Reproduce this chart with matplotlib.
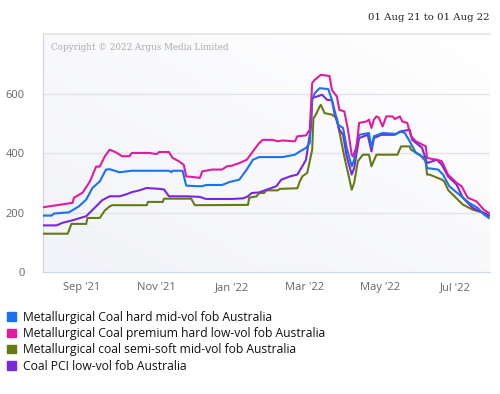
"""
Australian coking coal and PCI prices, Aug 2021 - Aug 2022.
"""

import matplotlib
matplotlib.use('Agg')
import matplotlib.pyplot as plt
import numpy as np
import pandas as pd
from matplotlib.patches import Patch

# --- data (US$/t) ---
hard_mid_dates = ['2021-08-01', '2021-08-08', '2021-08-10', '2021-08-22', '2021-08-30',
                  '2021-09-05', '2021-09-10', '2021-09-16', '2021-09-21', '2021-09-24',
                  '2021-10-02', '2021-10-12', '2021-11-11', '2021-11-13', '2021-11-14',
                  '2021-11-22', '2021-11-25', '2021-12-03', '2021-12-08', '2021-12-11',
                  '2021-12-24', '2021-12-30', '2022-01-07', '2022-01-13', '2022-01-18',
                  '2022-01-23', '2022-02-11', '2022-02-21', '2022-02-25', '2022-03-02',
                  '2022-03-05', '2022-03-07', '2022-03-09', '2022-03-13', '2022-03-20',
                  '2022-03-23', '2022-03-25', '2022-03-28', '2022-04-01', '2022-04-04',
                  '2022-04-08', '2022-04-10', '2022-04-13', '2022-04-14', '2022-04-22',
                  '2022-04-24', '2022-04-26', '2022-04-29', '2022-05-03', '2022-05-14',
                  '2022-05-18', '2022-05-21', '2022-05-25', '2022-05-30', '2022-06-04',
                  '2022-06-06', '2022-06-08', '2022-06-17', '2022-06-21', '2022-06-26',
                  '2022-07-04', '2022-07-12', '2022-07-19', '2022-07-24', '2022-07-28']
hard_mid = [190, 190, 197, 201, 221, 244, 283, 305, 345, 346, 336, 341, 341, 336, 341,
            341, 291, 289, 289, 293, 293, 303, 311, 345, 378, 387, 387, 395, 406, 418,
            434, 580, 602, 619, 616, 580, 546, 496, 485, 418, 356, 378, 451, 462, 468,
            418, 457, 462, 468, 465, 473, 468, 440, 401, 389, 384, 350, 345, 328, 289,
            261, 233, 216, 194, 182]

premium_dates = ['2021-08-01', '2021-08-25', '2021-08-26', '2021-09-02', '2021-09-08',
                 '2021-09-13', '2021-09-16', '2021-09-20', '2021-09-24', '2021-09-29',
                 '2021-10-04', '2021-10-10', '2021-10-12', '2021-10-26', '2021-11-01',
                 '2021-11-03', '2021-11-11', '2021-11-14', '2021-11-19', '2021-11-23',
                 '2021-11-25', '2021-11-30', '2021-12-06', '2021-12-08', '2021-12-16',
                 '2021-12-24', '2021-12-28', '2022-01-01', '2022-01-07', '2022-01-13',
                 '2022-01-18', '2022-01-23', '2022-01-26', '2022-02-03', '2022-02-07',
                 '2022-02-11', '2022-02-21', '2022-02-23', '2022-03-02', '2022-03-05',
                 '2022-03-07', '2022-03-09', '2022-03-14', '2022-03-21', '2022-03-23',
                 '2022-03-27', '2022-03-29', '2022-04-02', '2022-04-05', '2022-04-08',
                 '2022-04-09', '2022-04-12', '2022-04-14', '2022-04-20', '2022-04-22',
                 '2022-04-24', '2022-04-26', '2022-04-28', '2022-04-30', '2022-05-03',
                 '2022-05-06', '2022-05-11', '2022-05-13', '2022-05-17', '2022-05-19',
                 '2022-05-23', '2022-05-26', '2022-05-30', '2022-06-07', '2022-06-08',
                 '2022-06-16', '2022-06-20', '2022-06-25', '2022-07-02', '2022-07-06',
                 '2022-07-11', '2022-07-18', '2022-07-24', '2022-07-28']
premium = [218, 233, 250, 267, 305, 355, 355, 389, 412, 403, 390, 390, 401, 401, 397,
           404, 404, 384, 373, 361, 322, 320, 317, 339, 345, 345, 356, 358, 367, 378,
           406, 434, 445, 445, 440, 443, 440, 457, 460, 479, 636, 647, 664, 660, 613,
           591, 546, 541, 479, 395, 389, 423, 502, 507, 513, 485, 513, 524, 520, 490,
           524, 524, 515, 524, 507, 502, 457, 440, 423, 384, 378, 373, 328, 300, 289,
           250, 238, 210, 199]

semi_soft_dates = ['2021-08-01', '2021-08-21', '2021-08-24', '2021-09-05', '2021-09-06',
                   '2021-09-16', '2021-09-20', '2021-09-24', '2021-09-26', '2021-10-24',
                   '2021-10-25', '2021-11-06', '2021-11-07', '2021-11-29', '2021-12-02',
                   '2022-01-14', '2022-01-15', '2022-01-21', '2022-01-23', '2022-01-27',
                   '2022-01-29', '2022-02-07', '2022-02-09', '2022-02-23', '2022-02-25',
                   '2022-02-27', '2022-03-03', '2022-03-07', '2022-03-08', '2022-03-10',
                   '2022-03-13', '2022-03-14', '2022-03-17', '2022-03-23', '2022-03-27',
                   '2022-03-29', '2022-04-02', '2022-04-05', '2022-04-08', '2022-04-10',
                   '2022-04-13', '2022-04-17', '2022-04-22', '2022-04-24', '2022-04-28',
                   '2022-05-15', '2022-05-18', '2022-05-25', '2022-05-26', '2022-06-02',
                   '2022-06-07', '2022-06-08', '2022-06-10', '2022-06-20', '2022-06-22',
                   '2022-06-25', '2022-06-26', '2022-07-07', '2022-07-15', '2022-07-24',
                   '2022-07-28']
semi_soft = [129, 129, 162, 162, 182, 182, 207, 221, 225, 225, 236, 236, 247, 247, 225,
             226, 250, 255, 266, 266, 275, 275, 280, 282, 305, 322, 334, 412, 518, 530,
             557, 563, 535, 530, 518, 473, 389, 334, 277, 300, 373, 395, 395, 356, 395,
             395, 423, 423, 412, 395, 373, 328, 328, 311, 305, 277, 272, 227, 210, 199,
             188]

pci_dates = ['2021-08-01', '2021-08-12', '2021-08-17', '2021-08-24', '2021-09-05',
             '2021-09-13', '2021-09-18', '2021-09-24', '2021-10-02', '2021-10-07',
             '2021-10-12', '2021-10-18', '2021-10-24', '2021-11-03', '2021-11-07',
             '2021-11-11', '2021-11-25', '2021-12-06', '2021-12-11', '2022-01-01',
             '2022-01-10', '2022-01-14', '2022-01-17', '2022-01-23', '2022-01-29',
             '2022-02-06', '2022-02-10', '2022-02-17', '2022-02-23', '2022-02-27',
             '2022-03-02', '2022-03-06', '2022-03-07', '2022-03-11', '2022-03-15',
             '2022-03-19', '2022-03-23', '2022-03-25', '2022-03-29', '2022-04-01',
             '2022-04-04', '2022-04-08', '2022-04-10', '2022-04-14', '2022-04-21',
             '2022-04-24', '2022-04-26', '2022-05-02', '2022-05-13', '2022-05-17',
             '2022-05-25', '2022-05-27', '2022-06-04', '2022-06-08', '2022-06-16',
             '2022-06-20', '2022-06-25', '2022-07-02', '2022-07-07', '2022-07-15',
             '2022-07-24', '2022-07-28']
pci = [157, 157, 166, 173, 188, 221, 242, 255, 255, 261, 269, 275, 283, 280, 278,
       255, 255, 253, 246, 246, 248, 255, 266, 268, 277, 289, 311, 322, 328, 356,
       378, 490, 586, 591, 597, 580, 578, 535, 479, 462, 389, 328, 350, 451, 462,
       406, 451, 462, 462, 473, 479, 445, 418, 367, 378, 361, 322, 294, 250, 216,
       199, 192]

series_names = ['Metallurgical Coal hard mid-vol fob Australia',
                'Metallurgical Coal premium hard low-vol fob Australia',
                'Metallurgical coal semi-soft mid-vol fob Australia',
                'Coal PCI low-vol fob Australia']
series_colors = ['#1a72ec', '#e01c9e', '#667a14', '#7a28dc']

y_ticks = [0, 200, 400, 600]
x_tick_dates = ['2021-09-01', '2021-11-01', '2022-01-01', '2022-03-01', '2022-05-01', '2022-07-01']
x_tick_labels = ["Sep '21", "Nov '21", "Jan '22", "Mar '22", "May '22", "Jul '22"]

sans = ['Open Sans', 'DejaVu Sans']
serif = ['DejaVu Serif']

fig = plt.figure(figsize=(5.0, 3.94), dpi=100)
ax = fig.add_axes([0.086, 0.3096, 0.894, 0.603])

# light diagonal background gradient
gx, gy = np.meshgrid(np.linspace(0, 1, 200), np.linspace(0, 1, 200))
grad = (gx + (1 - gy)) / 2.0
ax.imshow(grad, extent=[0, 1, 0, 1], transform=ax.transAxes, aspect='auto',
          cmap=matplotlib.colors.LinearSegmentedColormap.from_list('bg', ['#f2f3f8', '#ffffff']),
          origin='upper', zorder=0)

data = [(hard_mid_dates, hard_mid), (premium_dates, premium),
        (semi_soft_dates, semi_soft), (pci_dates, pci)]
# draw order: green, purple, blue, pink on top
for idx in [2, 3, 0, 1]:
    d, v = data[idx]
    ax.plot(pd.to_datetime(d), v, color=series_colors[idx], lw=1.5, zorder=3,
            solid_joinstyle='round')

ax.set_xlim(pd.Timestamp('2021-08-01'), pd.Timestamp('2022-07-29'))
ax.set_ylim(0, 800)
ax.set_yticks(y_ticks)
ax.set_xticks(pd.to_datetime(x_tick_dates))
ax.set_xticklabels(x_tick_labels)

for y in y_ticks[1:]:
    ax.axhline(y, color='#e2e3e6', lw=1.0, zorder=1)

ax.spines['right'].set_visible(False)
ax.spines['top'].set_color('#e3e3e3')
ax.spines['top'].set_linewidth(1.2)
ax.spines['left'].set_color('#c9d5ee')
ax.spines['bottom'].set_color('#c9d5ee')

ax.tick_params(axis='both', length=0, labelsize=8, labelcolor='#666666')
ax.tick_params(axis='y', pad=13)
ax.tick_params(axis='x', pad=7)
for lbl in ax.get_xticklabels() + ax.get_yticklabels():
    lbl.set_family(sans)

fig.text(0.98, 0.956, '01 Aug 21 to 01 Aug 22', ha='right', va='center',
         fontsize=7.3, color='#222222', family=serif)
ax.text(0.018, 0.945, 'Copyright \u00a9 2022 Argus Media Limited', transform=ax.transAxes,
        ha='left', va='center', fontsize=6.3, color='#aaaaaa', family=serif)

handles = [Patch(facecolor=c, edgecolor=c) for c in series_colors]
fig.legend(handles, series_names, loc='upper left', bbox_to_anchor=(0.0, 0.23),
           frameon=False, prop={'family': sans, 'size': 8.7},
           handlelength=0.7, handleheight=0.7, handletextpad=0.6,
           labelspacing=0.28, borderaxespad=0.2, labelcolor='#111111')

plt.savefig('out.png', dpi=100)
plt.close()
